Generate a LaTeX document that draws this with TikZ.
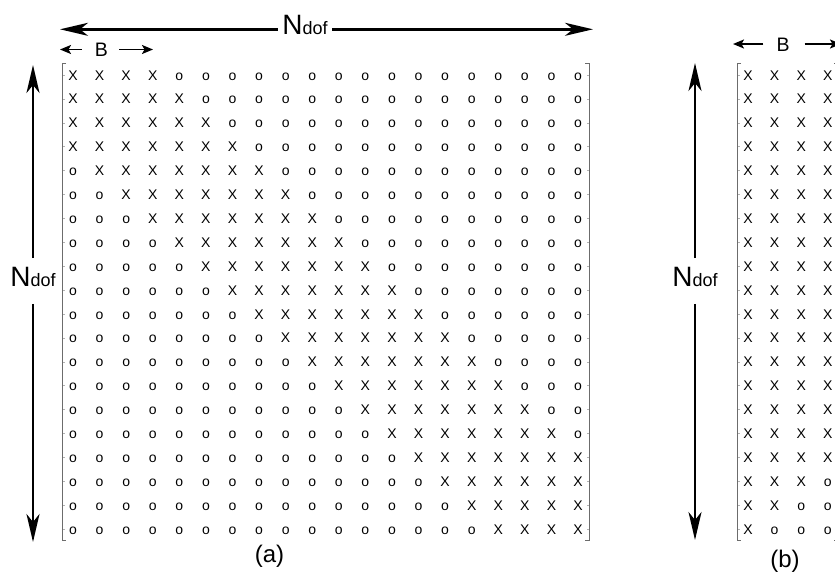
\documentclass[tikz,border=0pt]{standalone}
\usepackage{fontspec}
\setmainfont{Liberation Sans}
\usetikzlibrary{arrows.meta}
\newcommand\dofsub{{\fontsize{18}{18}\selectfont dof}}
\begin{document}
\begin{tikzpicture}[x=1pt,y=-1pt,
  entry/.style={inner sep=0pt, anchor=base, font=\fontsize{14}{14}\selectfont},
  big/.style={line width=2.6pt, -{Stealth[length=28pt,width=13pt,inset=8pt]}},
  small/.style={line width=1.8pt, -{Stealth[length=11pt,width=9pt,inset=2.5pt]}},
  brk/.style={draw=gray!85!black, line width=0.8pt},
  tickmark/.style={draw=gray!60, line width=0.6pt},
  ndof/.style={inner sep=0pt, font=\fontsize{28}{28}\selectfont},
  blabel/.style={inner sep=0pt, font=\fontsize{19.5}{19.5}\selectfont},
  caption/.style={inner sep=0pt, font=\fontsize{24}{24}\selectfont},
]
\useasboundingbox (0,0) rectangle (835,576);

% ---------- matrix (a) ----------
\foreach \i in {1,...,20}{
  \foreach \j in {1,...,20}{
    \pgfmathtruncatemacro\dd{abs(\i-\j)}
    \ifnum\dd<4 \def\mytxt{X}\else\def\mytxt{o}\fi
    \node[entry] (a-\i-\j) at ({73+26.58*(\j-1)},{80+23.9*(\i-1)}) {\mytxt};
  }
  \draw[tickmark] (62,{75+23.9*(\i-1)}) -- ++(2.5,0);
  \draw[tickmark] (589,{75+23.9*(\i-1)}) -- ++(-2.5,0);
}
\draw[brk] (66,63) -- (62,63) -- (62,540) -- (66,540);
\draw[brk] (585,63) -- (589,63) -- (589,540) -- (585,540);

% top N_dof arrow
\node[ndof, inner xsep=4.5pt] (ntop) at (305,25) {N\dofsub};
\coordinate (topL) at (60,29.3);
\coordinate (topR) at (593,29.3);
\draw[big] ([yshift=-4.3pt]ntop.west) -- (topL);
\draw[big] ([yshift=-4.3pt]ntop.east) -- (topR);

% B arrows (a)
\node[blabel] (ba) at (101.5,50) {B};
\coordinate (baL) at (60,49.5);
\coordinate (baR) at (153,49.5);
\draw[small] ([xshift=-13pt,yshift=0.5pt]ba.west) -- (baL);
\draw[small] ([xshift=11pt,yshift=0.5pt]ba.east) -- (baR);

% left N_dof arrow
\node[ndof] (nl) at (33,277) {N\dofsub};
\coordinate (ltop) at (33,65);
\coordinate (lbot) at (33,542);
\draw[big] ([yshift=9pt]nl.north) -- (ltop);
\draw[big] ([yshift=-17pt]nl.south) -- (lbot);

\node[caption] (capa) at (269.5,556.5) {(a)};

% ---------- matrix (b) ----------
\foreach \i in {1,...,20}{
  \foreach \j in {1,...,4}{
    \pgfmathtruncatemacro\ss{\i+\j}
    \ifnum\ss<22 \def\mytxt{X}\else\def\mytxt{o}\fi
    \node[entry] (b-\i-\j) at ({748+26.6*(\j-1)},{80+23.9*(\i-1)}) {\mytxt};
  }
  \draw[tickmark] (737,{75+23.9*(\i-1)}) -- ++(2.5,0);
}
\draw[brk] (741,63) -- (737,63) -- (737,540) -- (741,540);
\draw[brk] (834,63) -- (838,63) -- (838,540) -- (834,540);

\node[blabel] (bb) at (783,44.5) {B};
\coordinate (bbL) at (733,44);
\coordinate (bbR) at (841,44);
\draw[small] ([xshift=-13pt,yshift=0.5pt]bb.west) -- (bbL);
\draw[small] ([xshift=15pt,yshift=0.5pt]bb.east) -- (bbR);

\node[ndof] (nr) at (695,277) {N\dofsub};
\coordinate (rtop) at (695,63);
\coordinate (rbot) at (695,540);
\draw[big] ([yshift=9pt]nr.north) -- (rtop);
\draw[big] ([yshift=-17pt]nr.south) -- (rbot);

\node[caption] (capb) at (785,561.5) {(b)};
\end{tikzpicture}
\end{document}
